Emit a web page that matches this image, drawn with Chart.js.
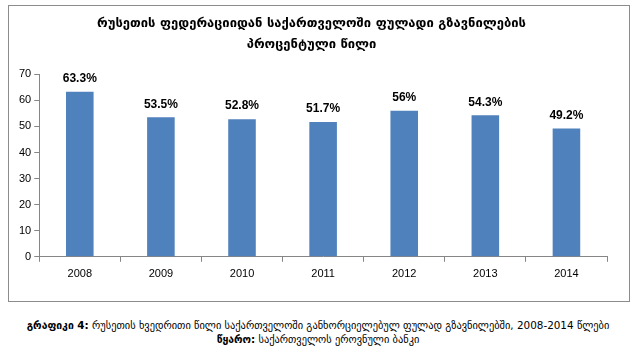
<!DOCTYPE html>
<html>
<head>
<meta charset="utf-8">
<script src="https://cdn.jsdelivr.net/npm/chart.js@4"></script>
<style>
  body { margin: 0; background: #fff; width: 636px; height: 353px; position: relative; font-family: "DejaVu Sans", sans-serif; }
  #box { position: absolute; left: 8px; top: 5px; width: 620px; height: 295px; border: 1px solid #8c8c8c; }
  #caption { position: absolute; left: 0; top: 318px; width: 636px; text-align: center; font-size: 10.4px; line-height: 14px; color: #000; white-space: nowrap; }
  #caption b { font-weight: bold; }
</style>
</head>
<body>
<div id="box"><canvas id="myChart" width="620" height="295"></canvas></div>
<div id="caption">
  <div><b>გრაფიკი 4:</b> რუსეთის ხვედრითი წილი საქართველოში განხორციელებულ ფულად გზავნილებში, 2008-2014 წლები</div>
  <div><b>წყარო:</b> საქართველოს ეროვნული ბანკი</div>
</div>
<script>
var years = ['2008', '2009', '2010', '2011', '2012', '2013', '2014'];
var shares = [63.3, 53.5, 52.8, 51.7, 56, 54.3, 49.2];
var titleLines = ['რუსეთის ფედერაციიდან საქართველოში ფულადი გზავნილების', 'პროცენტული წილი'];

// draw the percent labels above each bar
var valueLabels = {
  id: 'valueLabels',
  afterDatasetsDraw: function(chart) {
    var ctx = chart.ctx;
    var meta = chart.getDatasetMeta(0);
    ctx.save();
    ctx.font = 'bold 12px "Liberation Sans", sans-serif';
    ctx.fillStyle = '#000';
    ctx.textAlign = 'center';
    ctx.textBaseline = 'bottom';
    meta.data.forEach(function(bar, i) {
      ctx.fillText(shares[i] + '%', bar.x, bar.y - 7);
    });
    ctx.restore();
  }
};

var ctx = document.getElementById('myChart').getContext('2d');
var myChart = new Chart(ctx, {
  type: 'bar',
  data: {
    labels: years,
    datasets: [{
      data: shares,
      backgroundColor: '#4f81bd',
      categoryPercentage: 1,
      barPercentage: 0.34
    }]
  },
  options: {
    responsive: false,
    animation: false,
    layout: { padding: { left: 7, right: 22, top: 0, bottom: 14 } },
    plugins: {
      legend: { display: false },
      tooltip: { enabled: false },
      title: {
        display: true,
        text: titleLines,
        color: '#000',
        font: { family: '"DejaVu Sans", sans-serif', size: 13, weight: 'bold', lineHeight: 1.55 },
        padding: { top: 8, bottom: 20 }
      }
    },
    scales: {
      x: {
        grid: { display: true, drawOnChartArea: false, drawTicks: true, tickLength: 5, color: '#868686' },
        border: { color: '#868686' },
        ticks: { color: '#000', font: { family: '"Liberation Sans", sans-serif', size: 11 }, padding: 6 }
      },
      y: {
        min: 0,
        max: 70,
        grid: { display: true, drawOnChartArea: false, drawTicks: true, tickLength: 5, color: '#868686' },
        border: { color: '#868686' },
        ticks: { stepSize: 10, color: '#000', font: { family: '"Liberation Sans", sans-serif', size: 11 }, padding: 3 }
      }
    }
  },
  plugins: [valueLabels]
});
</script>
</body>
</html>
